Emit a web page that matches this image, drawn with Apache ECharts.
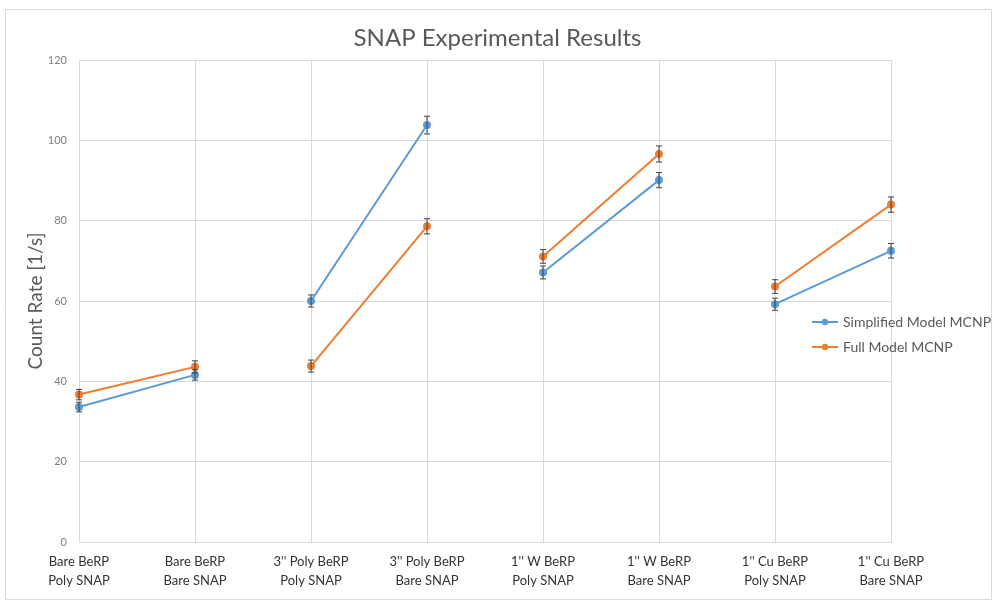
<!DOCTYPE html>
<html>
<head>
<meta charset="utf-8">
<script src="https://cdn.jsdelivr.net/npm/echarts@6/dist/echarts.min.js"></script>
<style>
  html, body { margin: 0; padding: 0; background: #fff; }
  #chart { width: 995px; height: 603px; }
</style>
</head>
<body>
<div id="chart"></div>
<script>
// Measurement configurations (BeRP ball shielding / SNAP moderator)
const categories = [
  'Bare BeRP\nPoly SNAP', 'Bare BeRP\nBare SNAP',
  "3'' Poly BeRP\nPoly SNAP", "3'' Poly BeRP\nBare SNAP",
  "1'' W BeRP\nPoly SNAP", "1'' W BeRP\nBare SNAP",
  "1'' Cu BeRP\nPoly SNAP", "1'' Cu BeRP\nBare SNAP"
];
const simplifiedValues = [33.6, 41.6, 60.0, 103.8, 67.1, 90.1, 59.2, 72.5];
const simplifiedErrors = [1.2, 1.3, 1.5, 2.2, 1.6, 1.9, 1.5, 1.8];
const fullValues = [36.7, 43.6, 43.8, 78.6, 71.1, 96.6, 63.6, 84.0];
const fullErrors = [1.3, 1.5, 1.5, 1.9, 1.7, 2.0, 1.7, 1.9];
const yTicks = { min: 0, max: 120, interval: 20 };

const BLUE = '#5B9BD5';
const ORANGE = '#ED7D31';
const FONT = 'Lato, "Open Sans", sans-serif';

// Each shielding configuration is a pair (Poly SNAP, Bare SNAP) joined by its own segment
function pairSeries(name, values, color) {
  const out = [];
  for (let p = 0; p < values.length; p += 2) {
    const data = values.map((v, i) => (i === p || i === p + 1) ? v : '-');
    out.push({
      name: name,
      type: 'line',
      data: data,
      symbol: 'circle',
      symbolSize: 8,
      connectNulls: false,
      itemStyle: { color: color },
      lineStyle: { color: color, width: 2 },
      z: 3
    });
  }
  return out;
}

// Vertical error bar with caps
function errorSeries(values, errors) {
  return {
    type: 'custom',
    data: values.map((v, i) => [i, v - errors[i], v + errors[i]]),
    encode: { x: 0, y: [1, 2] },
    z: 5,
    silent: true,
    renderItem: function (params, api) {
      const lo = api.coord([api.value(0), api.value(1)]);
      const hi = api.coord([api.value(0), api.value(2)]);
      const w = 3;
      const style = { stroke: '#404040', lineWidth: 1 };
      return {
        type: 'group',
        children: [
          { type: 'line', shape: { x1: lo[0], y1: lo[1], x2: hi[0], y2: hi[1] }, style: style },
          { type: 'line', shape: { x1: lo[0] - w, y1: lo[1], x2: lo[0] + w, y2: lo[1] }, style: style },
          { type: 'line', shape: { x1: hi[0] - w, y1: hi[1], x2: hi[0] + w, y2: hi[1] }, style: style }
        ]
      };
    }
  };
}

const chart = echarts.init(document.getElementById('chart'), null, { renderer: 'canvas' });
chart.setOption({
  backgroundColor: '#fff',
  animation: false,
  title: {
    text: 'SNAP Experimental Results',
    left: 'center',
    top: 21,
    textStyle: { fontFamily: FONT, fontSize: 24, fontWeight: 'normal', color: '#595959' }
  },
  graphic: [{
    type: 'rect',
    shape: { x: 5.5, y: 9.5, width: 986, height: 590 },
    style: { fill: 'none', stroke: '#d9d9d9', lineWidth: 1 },
    silent: true
  }],
  legend: {
    data: ['Simplified Model MCNP', 'Full Model MCNP'],
    orient: 'vertical',
    left: 806,
    top: 310,
    itemWidth: 26,
    itemHeight: 8,
    itemGap: 11,
    textStyle: { fontFamily: FONT, fontSize: 14, color: '#595959' }
  },
  grid: { left: 79, right: 104, top: 60, bottom: 61, containLabel: false },
  xAxis: {
    type: 'category',
    data: categories,
    boundaryGap: false,
    axisLine: { lineStyle: { color: '#d9d9d9' } },
    axisTick: { show: false },
    splitLine: { show: true, lineStyle: { color: '#d9d9d9' } },
    axisLabel: {
      interval: 0,
      margin: 10,
      lineHeight: 19,
      fontFamily: FONT,
      fontSize: 13,
      color: '#333333'
    }
  },
  yAxis: {
    type: 'value',
    min: yTicks.min,
    max: yTicks.max,
    interval: yTicks.interval,
    name: 'Count Rate [1/s]',
    nameLocation: 'middle',
    nameGap: 34,
    nameMoveOverlap: false,
    nameTextStyle: { fontFamily: FONT, fontSize: 19, color: '#595959' },
    axisLine: { show: false },
    axisTick: { show: false },
    splitLine: { lineStyle: { color: '#d9d9d9' } },
    axisLabel: { fontFamily: FONT, fontSize: 11, color: '#7f7f7f', margin: 12 }
  },
  series: [
    ...pairSeries('Simplified Model MCNP', simplifiedValues, BLUE),
    ...pairSeries('Full Model MCNP', fullValues, ORANGE),
    errorSeries(simplifiedValues, simplifiedErrors),
    errorSeries(fullValues, fullErrors)
  ]
});
</script>
</body>
</html>
